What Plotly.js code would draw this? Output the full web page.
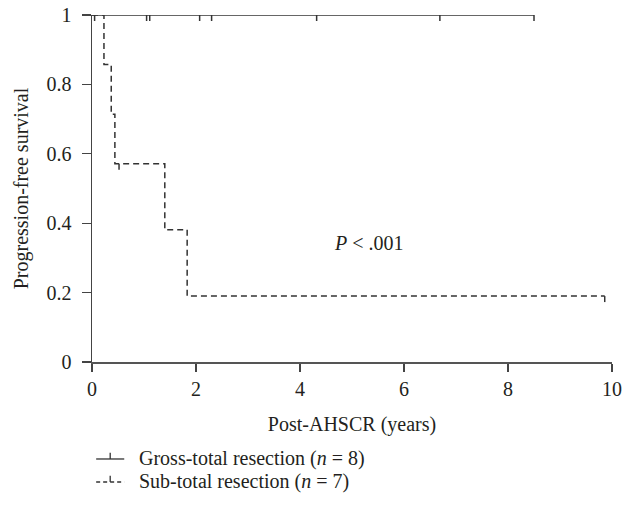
<!DOCTYPE html>
<html>
<head>
<meta charset="utf-8">
<script src="https://cdn.plot.ly/plotly-3.0.1.min.js"></script>
<style>html,body{margin:0;padding:0;background:#fff;}#chart{width:622px;height:507px;}</style>
</head>
<body>
<div id="chart"></div>
<script>
// Gross-total resection (n = 8): no events, all censored
const gtrTimes = [0, 8.50];
const gtrSurv = [1, 1];
const gtrCensorTimes = [0.05, 1.05, 1.11, 2.07, 2.30, 4.32, 6.69, 8.50];
const gtrCensorSurv = [1, 1, 1, 1, 1, 1, 1, 1];

// Sub-total resection (n = 7)
const strTimes = [0, 0.23, 0.37, 0.44, 1.40, 1.83, 9.86];
const strSurv = [1, 0.857, 0.714, 0.571, 0.381, 0.190, 0.190];
const strCensorTimes = [0.52, 9.86];
const strCensorSurv = [0.571, 0.190];

const xTicks = [0, 2, 4, 6, 8, 10];
const yTicks = [0, 0.2, 0.4, 0.6, 0.8, 1];
const yTickText = ['0', '0.2', '0.4', '0.6', '0.8', '1'];

const legendLabels = ['Gross-total resection (<i>n</i> = 8)', 'Sub-total resection (<i>n</i> = 7)'];
const pText = '<i>P</i> < .001';
const pPos = {x: 5.33, y: 0.343};

const lineColor = '#333333';
const textColor = '#231f20';
const FONT = 'Liberation Serif, Times New Roman, serif';
const FS = 20;

// censor tick: short vertical mark raised above the curve
const tickPx = 6;
const censorMarker = {symbol: 'line-ns', size: tickPx / 1.4, angle: 0, standoff: tickPx / 2,
  line: {color: lineColor, width: 1.5}};

const traces = [
  {x: gtrTimes, y: gtrSurv, mode: 'lines', line: {color: lineColor, width: 1.5, shape: 'hv'}, cliponaxis: false, hoverinfo: 'skip'},
  {x: strTimes, y: strSurv, mode: 'lines', line: {color: lineColor, width: 1.5, shape: 'hv', dash: '6px,4px'}, hoverinfo: 'skip'},
  {x: gtrCensorTimes, y: gtrCensorSurv, mode: 'markers', cliponaxis: false, marker: censorMarker, hoverinfo: 'skip'},
  {x: strCensorTimes, y: strCensorSurv, mode: 'markers', cliponaxis: false, marker: censorMarker, hoverinfo: 'skip'}
];

// manual legend (paper coordinates)
const legRows = [{y: -0.2795, dash: 'solid'}, {y: -0.3458, dash: '4px,3px'}];
const shapes = [];
const annotations = [];
legRows.forEach((r, i) => {
  shapes.push({type: 'line', xref: 'paper', yref: 'paper', x0: 0.008, x1: 0.062, y0: r.y, y1: r.y,
    line: {color: lineColor, width: 1.3, dash: r.dash}});
  shapes.push({type: 'line', xref: 'paper', yref: 'paper', x0: 0.035, x1: 0.035, y0: r.y, y1: r.y + 0.018,
    line: {color: lineColor, width: 1.3}});
  annotations.push({xref: 'paper', yref: 'paper', x: 0.086, y: r.y, xanchor: 'left', yanchor: 'middle',
    text: legendLabels[i], showarrow: false, font: {family: FONT, size: FS, color: textColor}});
});
annotations.push({xref: 'x', yref: 'y', x: pPos.x, y: pPos.y, text: pText, showarrow: false,
  font: {family: FONT, size: FS, color: textColor}});

const layout = {
  width: 622, height: 507,
  margin: {l: 92, r: 10, t: 15, b: 145},
  paper_bgcolor: '#ffffff', plot_bgcolor: '#ffffff',
  showlegend: false,
  font: {family: FONT, size: FS, color: textColor},
  xaxis: {
    range: [0, 10], tickvals: xTicks, ticktext: xTicks.map(String),
    showgrid: false, zeroline: false, showline: true, linecolor: '#555555', linewidth: 1.5,
    ticks: 'outside', ticklen: 8, tickwidth: 1.2, tickcolor: '#444444',
    tickfont: {family: FONT, size: FS, color: textColor},
    title: {text: 'Post-AHSCR (years)', font: {family: FONT, size: FS, color: textColor}, standoff: 18}
  },
  yaxis: {
    range: [0, 1], tickvals: yTicks, ticktext: yTickText,
    showgrid: false, zeroline: false, showline: true, linecolor: '#444444', linewidth: 1.5,
    ticks: 'outside', ticklen: 9, tickwidth: 1.2, tickcolor: '#444444',
    ticklabelstandoff: 6,
    tickfont: {family: FONT, size: FS, color: textColor},
    title: {text: 'Progression-free survival', font: {family: FONT, size: FS, color: textColor}, standoff: 12}
  },
  shapes: shapes,
  annotations: annotations
};

Plotly.newPlot('chart', traces, layout, {displayModeBar: false, staticPlot: true});
</script>
</body>
</html>
